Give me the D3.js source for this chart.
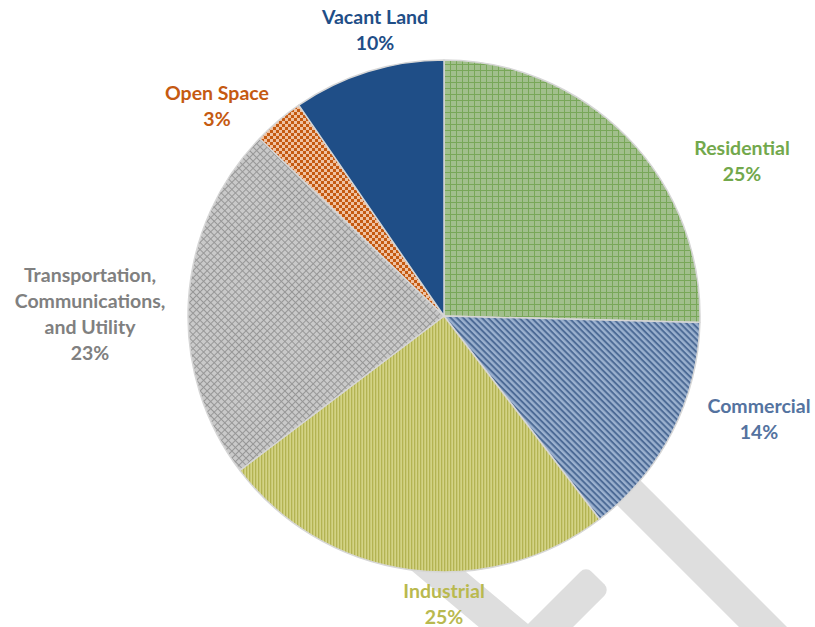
<!DOCTYPE html>
<html>
<head>
<meta charset="utf-8">
<script src="https://cdn.jsdelivr.net/npm/d3@7/dist/d3.min.js"></script>
<style>
  body { margin: 0; background: #fff; }
  svg text { font-family: Lato, "Open Sans", sans-serif; font-weight: bold; font-size: 19.5px; }
</style>
</head>
<body>
<svg id="chart" width="815" height="627"></svg>
<script>
// Land use shares (percent), clockwise from 12 o'clock
var categories = ["Residential", "Commercial", "Industrial", "Transportation, Communications, and Utility", "Open Space", "Vacant Land"];
var shares = [25.4, 14.2, 25.1, 22.5, 3.2, 9.6];
var labelLines = [["Residential"], ["Commercial"], ["Industrial"], ["Transportation,", "Communications,", "and Utility"], ["Open Space"], ["Vacant Land"]];
var textColors = ["#72a84c", "#5473a0", "#b9b94f", "#808080", "#c55a11", "#1f4e87"];

// centre of each label block, relative to the pie centre
var labelPos = [[298, -155], [315, 103], [0, 288], [-354, -2], [-227, -210], [-69, -286]];

var svg = d3.select("#chart");
var cx = 444, cy = 316, R = 256;

var defs = svg.append("defs");

// residential: green grid
var p = defs.append("pattern").attr("id", "pat0").attr("patternUnits", "userSpaceOnUse")
    .attr("width", 6).attr("height", 6);
p.append("rect").attr("width", 6).attr("height", 6).attr("fill", "#a1bf8c");
p.append("path").attr("d", "M0,0.5H6M0.5,0V6").attr("stroke", "#78a758").attr("stroke-width", 1);

// commercial: diagonal blue stripes
p = defs.append("pattern").attr("id", "pat1").attr("patternUnits", "userSpaceOnUse")
    .attr("width", 4.4).attr("height", 4.4).attr("patternTransform", "rotate(45)");
p.append("rect").attr("width", 4.4).attr("height", 4.4).attr("fill", "#9bb1cf");
p.append("rect").attr("width", 4.4).attr("height", 2).attr("fill", "#4d6b96");

// industrial: vertical yellow stripes
p = defs.append("pattern").attr("id", "pat2").attr("patternUnits", "userSpaceOnUse")
    .attr("width", 3).attr("height", 3);
p.append("rect").attr("width", 3).attr("height", 3).attr("fill", "#d3d385");
p.append("rect").attr("width", 1.3).attr("height", 3).attr("fill", "#b3b352");

// transportation: grey lattice
p = defs.append("pattern").attr("id", "pat3").attr("patternUnits", "userSpaceOnUse")
    .attr("width", 5).attr("height", 5).attr("patternTransform", "rotate(45)");
p.append("rect").attr("width", 5).attr("height", 5).attr("fill", "#c9c9c9");
p.append("path").attr("d", "M0,0.5H5M0.5,0V5").attr("stroke", "#979797").attr("stroke-width", 1);

// open space: orange checkerboard
p = defs.append("pattern").attr("id", "pat4").attr("patternUnits", "userSpaceOnUse")
    .attr("width", 6).attr("height", 6);
p.append("rect").attr("width", 6).attr("height", 6).attr("fill", "#efc2a2");
p.append("rect").attr("width", 3).attr("height", 3).attr("fill", "#c55a11");
p.append("rect").attr("x", 3).attr("y", 3).attr("width", 3).attr("height", 3).attr("fill", "#c55a11");

var fills = ["url(#pat0)", "url(#pat1)", "url(#pat2)", "url(#pat3)", "url(#pat4)", "#1f4e87"];

// faint watermark behind the pie
var wm = svg.append("g").attr("fill", "#dedede");
wm.append("rect").attr("x", -17).attr("y", 0).attr("width", 34).attr("height", 420)
    .attr("transform", "translate(570,434) rotate(-45)");
wm.append("rect").attr("x", -17).attr("y", 0).attr("width", 34).attr("height", 200)
    .attr("transform", "translate(392,532) rotate(-50)");
wm.append("rect").attr("x", -17).attr("y", 0).attr("width", 34).attr("height", 200).attr("rx", 8)
    .attr("transform", "translate(598,578) rotate(45)");

var pie = d3.pie().sort(null).value(function (d) { return d; });
var arc = d3.arc().innerRadius(0).outerRadius(R);
var arcs = pie(shares);

var g = svg.append("g").attr("transform", "translate(" + cx + "," + cy + ")");

g.selectAll("path.slice")
    .data(arcs)
    .enter().append("path")
    .attr("class", "slice")
    .attr("d", arc)
    .attr("fill", function (d, i) { return fills[i]; })
    .attr("stroke", "#d6d6d6")
    .attr("stroke-width", 1.5)
    .attr("stroke-linejoin", "round");

// labels
var lineH = 26;
var lab = g.selectAll("text.lab")
    .data(arcs)
    .enter().append("text")
    .attr("class", "lab")
    .attr("text-anchor", "middle")
    .attr("fill", function (d, i) { return textColors[i]; })
    .attr("transform", function (d, i) { return "translate(" + labelPos[i][0] + "," + labelPos[i][1] + ")"; });

lab.each(function (d, i) {
    var t = d3.select(this);
    var lines = labelLines[i].concat([Math.round(shares[i]) + "%"]);
    var top = -(lines.length - 1) * lineH / 2;
    lines.forEach(function (s, k) {
        t.append("tspan").attr("x", 0).attr("y", top + k * lineH).attr("dy", "0.35em").text(s);
    });
});
</script>
</body>
</html>
